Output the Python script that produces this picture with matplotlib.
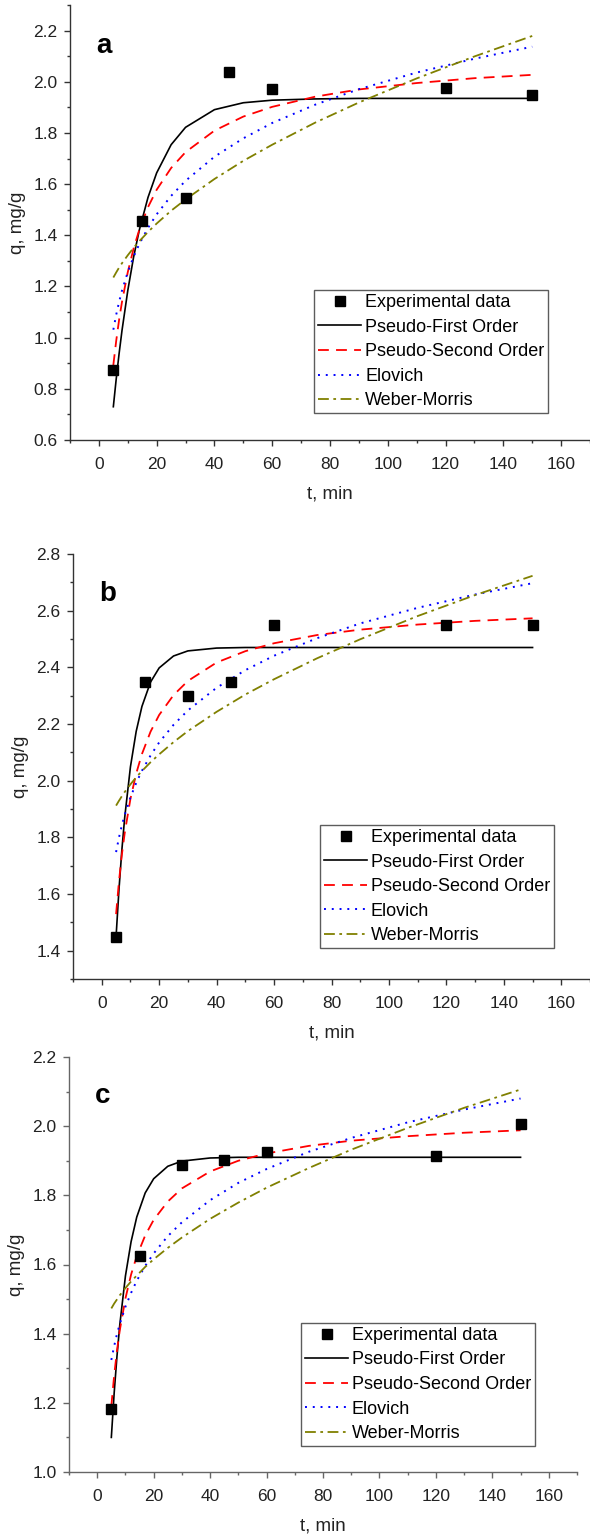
import matplotlib
matplotlib.use('Agg')
import matplotlib.pyplot as plt
from matplotlib.ticker import MultipleLocator, FormatStrFormatter

plt.rcParams['font.family'] = ['Liberation Sans', 'DejaVu Sans']

# experimental points (same times in all panels)
t_exp = [5, 15, 30, 45, 60, 120, 150]
qa_exp = [0.875, 1.457, 1.545, 2.038, 1.971, 1.975, 1.948]
qb_exp = [1.448, 2.349, 2.300, 2.349, 2.550, 2.550, 2.550]
qc_exp = [1.182, 1.626, 1.887, 1.901, 1.924, 1.914, 2.005]

# model curves
t_fit = [5, 6, 7, 8, 10, 12, 14, 17, 20, 25, 30, 40, 50, 60, 75, 90, 110, 130, 150]

qa_pfo = [0.730, 0.839, 0.938, 1.028, 1.184, 1.314, 1.421, 1.548, 1.644, 1.754, 1.822,
          1.891, 1.918, 1.928, 1.933, 1.935, 1.935, 1.935, 1.935]
qa_pso = [0.893, 0.988, 1.070, 1.140, 1.256, 1.348, 1.422, 1.510, 1.578, 1.663, 1.725,
          1.809, 1.864, 1.902, 1.942, 1.970, 1.995, 2.014, 2.027]
qa_elo = [1.031, 1.090, 1.140, 1.184, 1.256, 1.316, 1.366, 1.429, 1.482, 1.554, 1.613,
          1.707, 1.779, 1.839, 1.911, 1.971, 2.036, 2.090, 2.137]
qa_wm = [1.235, 1.255, 1.274, 1.291, 1.322, 1.351, 1.377, 1.413, 1.446, 1.496, 1.540,
         1.620, 1.691, 1.754, 1.841, 1.919, 2.013, 2.099, 2.179]

qb_pfo = [1.450, 1.615, 1.754, 1.870, 2.049, 2.174, 2.262, 2.348, 2.398, 2.440, 2.458,
          2.468, 2.470, 2.470, 2.470, 2.470, 2.470, 2.470, 2.470]
qb_pso = [1.529, 1.644, 1.738, 1.815, 1.936, 2.025, 2.094, 2.173, 2.232, 2.302, 2.352,
          2.417, 2.457, 2.485, 2.514, 2.533, 2.551, 2.564, 2.573]
qb_elo = [1.748, 1.799, 1.842, 1.879, 1.941, 1.992, 2.035, 2.089, 2.135, 2.197, 2.248,
          2.328, 2.390, 2.441, 2.503, 2.555, 2.610, 2.657, 2.697]
qb_wm = [1.912, 1.929, 1.945, 1.960, 1.987, 2.012, 2.034, 2.065, 2.093, 2.136, 2.175,
         2.243, 2.304, 2.358, 2.432, 2.499, 2.581, 2.655, 2.723]

qc_pfo = [1.100, 1.228, 1.335, 1.426, 1.567, 1.666, 1.737, 1.807, 1.848, 1.884, 1.899,
          1.908, 1.910, 1.910, 1.910, 1.910, 1.910, 1.910, 1.910]
qc_pso = [1.191, 1.279, 1.351, 1.410, 1.502, 1.571, 1.624, 1.684, 1.729, 1.782, 1.820,
          1.869, 1.900, 1.921, 1.943, 1.958, 1.971, 1.981, 1.988]
qc_elo = [1.324, 1.364, 1.399, 1.428, 1.478, 1.518, 1.553, 1.596, 1.632, 1.682, 1.722,
          1.786, 1.836, 1.876, 1.926, 1.966, 2.011, 2.048, 2.080]
qc_wm = [1.473, 1.487, 1.499, 1.511, 1.532, 1.551, 1.568, 1.593, 1.615, 1.648, 1.678,
         1.732, 1.779, 1.822, 1.879, 1.932, 1.995, 2.053, 2.106]

panels = [
    # letter, exp, pfo, pso, elovich, weber-morris, ylim, box [l, b, w, h] px, legend anchor, spine colour
    ('a', qa_exp, qa_pfo, qa_pso, qa_elo, qa_wm, (0.6, 2.3), (70, 440, 520, 435), (0.919, 0.062), '#333333'),
    ('b', qb_exp, qb_pfo, qb_pso, qb_elo, qb_wm, (1.3, 2.8), (73, 979, 517, 425), (0.930, 0.073), '#333333'),
    ('c', qc_exp, qc_pfo, qc_pso, qc_elo, qc_wm, (1.0, 2.2), (69, 1472, 508, 415), (0.917, 0.063), '#666666'),
]

W, H = 590, 1534
fig = plt.figure(figsize=(W / 100, H / 100), dpi=100)

for letter, q_exp, q_pfo, q_pso, q_elo, q_wm, ylim, box, anchor, sc in panels:
    l, b, w, h = box
    ax = fig.add_axes([l / W, (H - b) / H, w / W, h / H])

    ax.plot(t_exp, q_exp, 's', color='black', markersize=6.5, label='Experimental data', zorder=5)
    ax.plot(t_fit, q_pfo, '-', color='black', lw=1.2, label='Pseudo-First Order')
    ax.plot(t_fit, q_pso, '--', color='#ff0000', lw=1.3, dashes=(6, 4), label='Pseudo-Second Order')
    ax.plot(t_fit, q_elo, ':', color='#0000ff', lw=1.4, dashes=(1, 3), label='Elovich')
    ax.plot(t_fit, q_wm, '-.', color='#808000', lw=1.3, dashes=(6, 2.5, 1.5, 2.5), label='Weber-Morris')

    ax.set_xlim(-10, 170)
    ax.set_ylim(*ylim)
    ax.xaxis.set_major_locator(MultipleLocator(20))
    ax.xaxis.set_minor_locator(MultipleLocator(10))
    ax.yaxis.set_major_locator(MultipleLocator(0.2))
    ax.yaxis.set_minor_locator(MultipleLocator(0.1))
    ax.yaxis.set_major_formatter(FormatStrFormatter('%.1f'))

    for s in ['top', 'right']:
        ax.spines[s].set_visible(False)
    for s in ['left', 'bottom']:
        ax.spines[s].set_color(sc)
        ax.spines[s].set_linewidth(1.0)
    ax.tick_params(which='major', direction='out', length=4, width=1, color=sc,
                   labelsize=12.5, labelcolor='#222222')
    ax.tick_params(axis='y', which='major', pad=5)
    ax.tick_params(axis='x', which='major', pad=8)
    ax.tick_params(which='minor', direction='out', length=2.5, width=1, color=sc)

    ax.set_xlabel('t, min', fontsize=13.5, color='#222222', labelpad=10)
    ax.set_ylabel('q, mg/g', fontsize=13.5, color='#222222', labelpad=5)

    ax.text(0.05, 0.905, letter, transform=ax.transAxes, fontsize=20,
            fontweight='bold', va='center', ha='left')

    leg = ax.legend(loc='lower right', bbox_to_anchor=anchor, fontsize=13,
                    frameon=True, fancybox=False, edgecolor='#333333',
                    handlelength=2.4, handletextpad=0.2, labelspacing=0.42,
                    borderpad=0.2, borderaxespad=0, numpoints=1)
    leg.get_frame().set_linewidth(1.0)

plt.savefig('out.png', dpi=100)
